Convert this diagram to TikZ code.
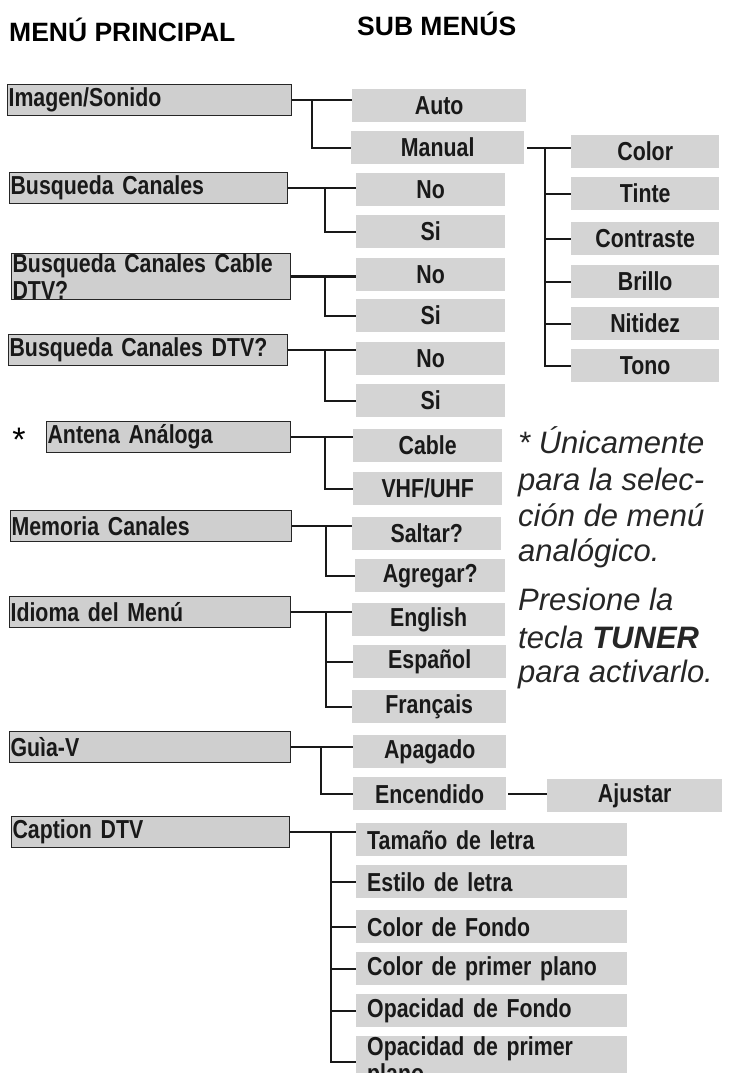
\documentclass[tikz,border=0pt]{standalone}
\usepackage{fontspec}
\setmainfont{Liberation Sans}
\newfontfamily\cond[FakeStretch=0.82]{Liberation Sans}
\newcommand{\bxfont}{\cond\bfseries\fontsize{26}{27}\selectfont\spaceskip=0.2em plus 0.05em\relax}
\begin{document}
\begin{tikzpicture}[x=1pt,y=-1pt,
  main/.style={draw=black!85, line width=1.2pt, fill=black!19, minimum height=31pt, anchor=north west, inner xsep=1pt, inner ysep=0pt, align=left, font=\bxfont, text=black!90},
  sub/.style={fill=black!17, minimum height=33pt, anchor=north west, inner sep=0pt, font=\bxfont, text=black!90},
  subl/.style={sub, align=left, inner xsep=11pt, text width=249pt},
  conn/.style={line width=2.4pt, black!90},
  note/.style={anchor=base west, inner sep=0pt, font=\itshape\fontsize{31}{32}\selectfont, text=black!85},
  head/.style={anchor=north west, inner sep=0pt, font=\bfseries\fontsize{26.5}{27}\selectfont}]
\useasboundingbox (0,0) rectangle (728,1073);
\node[head] (h1) at (9,18) {MENÚ PRINCIPAL};
\node[head] (h2) at (357,12) {SUB MENÚS};
% main boxes
\node[main, text width=282pt] (m1) at (7,84) {Imagen/Sonido};
\node[main, text width=276pt] (m2) at (9,172) {Busqueda Canales};
\node[main, text width=277pt] (m3) at (11,253) {Busqueda Canales Cable DTV?};
\node[main, text width=277pt] (m4) at (8,334) {Busqueda Canales DTV?};
\node[main, text width=242pt] (m5) at (46,421) {Antena Análoga};
\node[anchor=center, inner sep=0pt, font=\fontsize{34}{34}\selectfont] (ast) at (19,440) {*};
\node[main, text width=279pt] (m6) at (10,510) {Memoria Canales};
\node[main, text width=279pt] (m7) at (9,596) {Idioma del Menú};
\node[main, text width=279pt] (m8) at (9,731) {Guìa-V};
\node[main, text width=276pt] (m9) at (11,816) {Caption DTV};
% sub boxes
\node[sub, minimum width=174pt] (a1) at (352,89) {Auto};
\node[sub, minimum width=173pt] (a2) at (351,131) {Manual};
\node[sub, minimum width=148pt] (b1) at (571,135) {Color};
\node[sub, minimum width=148pt] (b2) at (571,177) {Tinte};
\node[sub, minimum width=148pt] (b3) at (571,222) {Contraste};
\node[sub, minimum width=148pt] (b4) at (571,265) {Brillo};
\node[sub, minimum width=148pt] (b5) at (571,307) {Nitidez};
\node[sub, minimum width=148pt] (b6) at (571,349) {Tono};
\node[sub, minimum width=149pt] (c1) at (356,173) {No};
\node[sub, minimum width=149pt] (c2) at (356,215) {Si};
\node[sub, minimum width=149pt] (d1) at (356,258) {No};
\node[sub, minimum width=149pt] (d2) at (356,299) {Si};
\node[sub, minimum width=149pt] (e1) at (356,342) {No};
\node[sub, minimum width=149pt] (e2) at (356,384) {Si};
\node[sub, minimum width=149pt] (f1) at (353,429) {Cable};
\node[sub, minimum width=149pt] (f2) at (353,472) {VHF/UHF};
\node[sub, minimum width=149pt] (g1) at (352,517) {Saltar?};
\node[sub, minimum width=150pt] (g2) at (355,559) {Agregar?};
\node[sub, minimum width=153pt] (i1) at (352,603) {English};
\node[sub, minimum width=153pt] (i2) at (353,645) {Español};
\node[sub, minimum width=154pt] (i3) at (352,690) {Français};
\node[sub, minimum width=153pt] (j1) at (353,735) {Apagado};
\node[sub, minimum width=153pt] (j2) at (353,777) {Encendido};
\node[sub, minimum width=175pt] (aj) at (547,779) {Ajustar};
\node[subl] (k1) at (356,823) {Tamaño de letra};
\node[subl] (k2) at (356,865) {Estilo de letra};
\node[subl] (k3) at (356,910) {Color de Fondo};
\node[subl] (k4) at (356,952) {Color de primer plano};
\node[subl] (k5) at (356,994) {Opacidad de Fondo};
\node[subl] (k6) at (356,1036) {Opacidad de primer plano};
% note
\node[note] (n1) at (518,453) {* Únicamente};
\node[note] (n2) at (518,490) {para la selec-};
\node[note] (n3) at (518,526) {ción de menú};
\node[note] (n4) at (518,561) {analógico.};
\node[note] (n5) at (518,610) {Presione la};
\node[note] (n6) at (518,648) {tecla \textbf{TUNER}};
\node[note] (n7) at (518,682) {para activarlo.};
% connectors
\draw[conn] (m1.east) -- (a1.west |- m1.east);
\draw[conn] (m1.east) ++(20,0) coordinate (x1) |- (a2.west);
\draw[conn] ([xshift=3pt]a2.east) -- (b1.west |- a2.east);
\coordinate (xb) at (545,0);
\draw[conn] (xb |- a2.east) |- (b6.west);
\foreach \n in {b2,b3,b4,b5} \draw[conn] (xb |- \n.west) -- (\n.west);
\draw[conn] (m2.east) -- (c1.west |- m2.east);
\draw[conn] (m2.east) ++(37,0) |- (c2.west);
\draw[conn] (m3.east) -- (d1.west |- m3.east);
\draw[conn] (m3.east) ++(34,0) |- (d2.west);
\draw[conn] (m4.east) -- (e1.west |- m4.east);
\draw[conn] (m4.east) ++(37,0) |- (e2.west);
\draw[conn] (m5.east) -- (f1.west |- m5.east);
\draw[conn] (m5.east) ++(34,0) |- (f2.west);
\draw[conn] (m6.east) -- (g1.west |- m6.east);
\draw[conn] (m6.east) ++(34,0) |- (g2.west);
\draw[conn] (m7.east) -- (i1.west |- m7.east);
\draw[conn] (m7.east) ++(35,0) coordinate (x7) |- (i3.west);
\draw[conn] (x7 |- i2.west) -- (i2.west);
\draw[conn] (m8.east) -- (j1.west |- m8.east);
\draw[conn] (m8.east) ++(30,0) |- (j2.west);
\draw[conn] ([xshift=2pt]j2.east) -- (aj.west |- j2.east);
\draw[conn] (m9.east) -- (k1.west |- m9.east);
\draw[conn] (m9.east) ++(41,0) coordinate (x9) |- (k6.west);
\foreach \n in {k2,k3,k4,k5} \draw[conn] (x9 |- \n.west) -- (\n.west);
\end{tikzpicture}
\end{document}
